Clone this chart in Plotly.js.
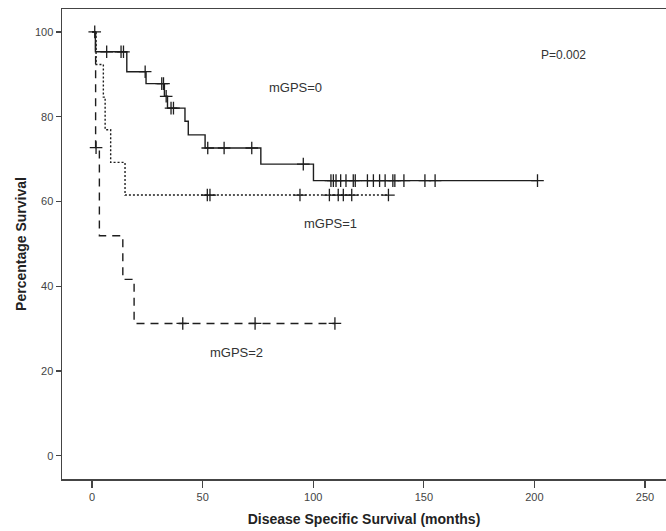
<!DOCTYPE html>
<html><head><meta charset="utf-8">
<script src="https://cdn.plot.ly/plotly-3.0.1.min.js"></script>
<style>html,body{margin:0;padding:0;background:#fff}</style></head>
<body>
<div id="chart" style="width:666px;height:531px"></div>
<script>
// mGPS=0 (solid)
const g0Times = [0, 1.5, 15.7, 24.4, 32.7, 34.1, 42.0, 43.5, 51.1, 76.3, 100.1];
const g0Surv  = [100, 95.3, 90.6, 87.8, 84.8, 82.0, 78.9, 75.7, 72.6, 68.8, 64.9];
const g0Cens  = [1.2, 6.6, 13.1, 14.2, 24.0, 31.5, 32.3, 33.5, 35.7, 36.8, 52.3, 59.7, 72.2, 95.5,
                 108, 109.1, 110.3, 112.4, 114.8, 118.1, 119, 124.5, 127.2, 130, 132.5, 136, 136.9, 141, 150.5, 155.1, 201.4];
// mGPS=1 (dotted)
const g1Times = [0, 1.8, 5.1, 5.9, 8.4, 14.9];
const g1Surv  = [100, 92.3, 84.6, 76.9, 69.2, 61.5];
const g1Cens  = [52.1, 53.3, 94, 107.3, 111.3, 113.6, 117.4, 134];
// mGPS=2 (dashed)
const g2Times = [0, 1.6, 3.3, 13.9, 19.0];
const g2Surv  = [100, 72.7, 51.9, 41.6, 31.2];
const g2Cens  = [1.8, 41, 73.7, 109.8];

const xTicks = [0, 50, 100, 150, 200, 250];
const yTicks = [0, 20, 40, 60, 80, 100];

const ink = '#1e1e1e';
function survAt(times, surv, t){ let v = surv[0]; for (let i=0;i<times.length;i++){ if (times[i] <= t) v = surv[i]; } return v; }
function stepTrace(times, surv, cens, dash, name){
  const end = Math.max(times[times.length-1], ...cens);
  return {x: times.concat([end]), y: surv.concat([surv[surv.length-1]]), mode:'lines', name:name,
    line:{shape:'hv', color:ink, width:1.4, dash:dash}, hoverinfo:'skip'};
}
function censTrace(times, surv, cens, name){
  return {x: cens, y: cens.map(t=>survAt(times, surv, t)), mode:'markers', name:name+' censored',
    marker:{symbol:'cross-thin', size:9, color:ink, line:{color:ink, width:1.3}}, hoverinfo:'skip'};
}
const data = [
  stepTrace(g2Times, g2Surv, g2Cens, '8px,6px', 'mGPS=2'), censTrace(g2Times, g2Surv, g2Cens, 'mGPS=2'),
  stepTrace(g1Times, g1Surv, g1Cens, '2px,2px', 'mGPS=1'), censTrace(g1Times, g1Surv, g1Cens, 'mGPS=1'),
  stepTrace(g0Times, g0Surv, g0Cens, 'solid', 'mGPS=0'), censTrace(g0Times, g0Surv, g0Cens, 'mGPS=0')
];
const fam = 'Liberation Sans, Arial, sans-serif';
const layout = {
  width:666, height:531, showlegend:false,
  margin:{l:62, r:0, t:9, b:52},
  paper_bgcolor:'#fff', plot_bgcolor:'#fff',
  font:{family:fam, color:'#333'},
  xaxis:{range:[-13.6, 259.5], tickvals:xTicks, ticks:'outside', ticklen:7, tickwidth:1.3, tickcolor:'#444',
    showline:true, mirror:true, linecolor:'#444', linewidth:1.5, showgrid:false, zeroline:false,
    tickfont:{family:fam, size:11, color:'#444'},
    title:{text:'<b>Disease Specific Survival (months)</b>', font:{family:fam, size:14, color:'#222'}, standoff:12}},
  yaxis:{range:[-5.5, 105.4], tickvals:yTicks, ticks:'outside', ticklen:5, tickwidth:1.3, tickcolor:'#444',
    showline:true, mirror:false, linecolor:'#444', linewidth:1.5, showgrid:false, zeroline:false,
    tickfont:{family:fam, size:11, color:'#444'},
    title:{text:'<b>Percentage Survival</b>', font:{family:fam, size:14, color:'#222'}, standoff:5}},
  annotations:[
    {x:91.8, y:86.8, xref:'x', yref:'y', text:'mGPS=0', showarrow:false, font:{family:fam, size:13, color:'#333'}},
    {x:107.6, y:54.7, xref:'x', yref:'y', text:'mGPS=1', showarrow:false, font:{family:fam, size:13, color:'#333'}},
    {x:65.5, y:24.3, xref:'x', yref:'y', text:'mGPS=2', showarrow:false, font:{family:fam, size:13, color:'#333'}},
    {x:213, y:94.6, xref:'x', yref:'y', text:'P=0.002', showarrow:false, font:{family:fam, size:12, color:'#333'}}
  ]
};
Plotly.newPlot('chart', data, layout, {displayModeBar:false, staticPlot:true});
</script>
</body></html>
